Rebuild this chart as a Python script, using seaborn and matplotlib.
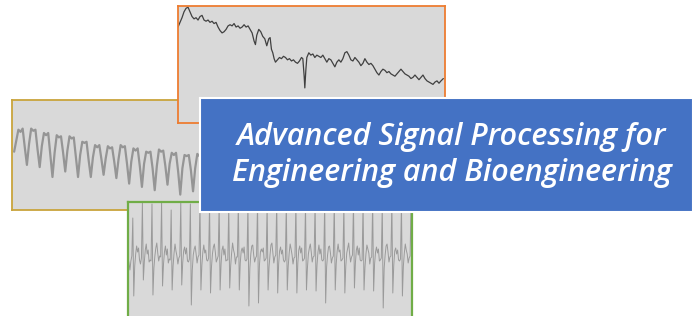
import numpy as np
import pandas as pd
import matplotlib
matplotlib.use("Agg")
import matplotlib.pyplot as plt
import seaborn as sns

sns.set_theme(style="white")

# ---------------- data ----------------
# top (orange) panel: slowly drifting noisy signal
top_t = [10, 16, 22, 28, 34, 40, 46, 52, 58, 64, 70, 76, 82, 88, 94, 100, 106, 112, 118, 124,
         130, 136, 142, 148, 154, 160, 166, 172, 178, 184, 190, 196, 202, 208, 214, 220, 226, 232,
         238, 242, 246, 252, 258, 264, 270, 276, 282, 286, 290, 294, 298, 302, 308, 314, 320, 326,
         332, 338, 344, 350, 356, 362, 368, 374, 380, 384, 388, 390, 393, 396, 402, 408, 414, 420,
         426, 432, 438, 444, 450, 456, 462, 468, 474, 480, 486, 492, 498, 504, 510, 516, 522, 528,
         534, 540, 546, 552, 558, 564, 570, 576, 582, 588, 594, 600, 606, 612, 618, 624, 630, 636,
         642, 648, 654, 660, 666, 672, 678, 684, 690, 696, 702, 708, 714, 720, 726, 732, 738, 744,
         750, 756, 762, 768, 774, 780, 786, 792, 798, 805]
top_v = [82, 86, 90, 95, 98, 99, 95, 91, 89, 90, 88, 91, 92, 88, 87, 88, 86, 87, 85, 86,
         82, 79, 77, 78, 80, 83, 84, 83, 85, 82, 83, 81, 82, 84, 82, 83, 80, 77,
         70, 67, 75, 80, 78, 74, 72, 66, 72, 73, 63, 60, 55, 52, 54, 56, 55, 57,
         56, 54, 55, 53, 54, 52, 51, 53, 56, 55, 40, 30, 45, 56, 60, 58, 59, 56,
         58, 57, 56, 58, 55, 52, 55, 54, 51, 48, 52, 54, 52, 55, 60, 61, 58, 54,
         53, 56, 54, 52, 49, 51, 55, 52, 50, 51, 49, 46, 43, 41, 44, 46, 45, 43,
         44, 42, 41, 40, 42, 44, 46, 44, 42, 41, 40, 38, 39, 41, 39, 37, 39, 41,
         38, 36, 35, 34, 33, 35, 36, 34, 36, 38]

# left (gold) panel: breathing-like oscillation
resp_v = [53, 63,
          73, 71, 74, 57, 41, 60,
          74, 72, 73, 55, 39, 58,
          70, 68, 70, 50, 30, 52,
          68, 66, 67, 52, 35, 54,
          67, 65, 66, 48, 30, 50,
          62, 61, 62, 45, 30, 48,
          59, 57, 59, 46, 32, 47,
          58, 56, 57, 44, 29, 46,
          59, 57, 58, 42, 24, 44,
          56, 54, 56, 40, 21, 42,
          53, 52, 53, 38, 18, 40,
          55, 53, 54, 40, 23, 42,
          52, 50, 52, 35, 14, 38,
          50, 49, 50, 36, 17, 38,
          51, 49, 50, 36, 18, 40]

# bottom (green) panel: ECG-like trace
ecg_v = [0, -5, -12, -3,
         2, 40, -38, -8, 4, 12, 6, 10, -2, -6,
         0, 55, -22, -4, 8, 14, 4, 8, -4, -2,
         -3, 54, -37, -10, 2, 10, 15, 5, -3, 2,
         1, 55, -28, -6, 6, 12, 3, 9, -5, -1,
         -2, 48, -32, -8, 5, 14, 7, 2, -6, 0,
         2, 55, -27, -5, 7, 11, 4, 10, -3, -4,
         -1, 54, -47, -12, 3, 9, 12, 4, -5, 1,
         3, 55, -32, -7, 6, 13, 5, 8, -2, -3,
         0, 53, -35, -9, 4, 11, 14, 6, -4, -1,
         2, 55, -32, -6, 8, 12, 3, 9, -3, -2,
         -2, 52, -30, -8, 5, 15, 8, 4, -6, 1,
         1, 55, -32, -5, 7, 10, 5, 11, -2, -3,
         -1, 54, -48, -10, 4, 12, 13, 3, -4, 0,
         2, 55, -45, -7, 6, 9, 6, 10, -3, -2,
         0, 53, -32, -9, 3, 13, 15, 5, -5, 1,
         3, 55, -35, -6, 7, 11, 4, 8, -2, -4,
         -2, 54, -32, -8, 5, 14, 9, 3, -6, 0,
         1, 55, -35, -5, 8, 12, 5, 10, -3, -2,
         0, 52, -32, -10, 4, 10, 14, 6, -4, 1,
         2, 55, -33, -7, 6, 13, 4, 9, -2, -3,
         -1, 54, -45, -9, 3, 11, 12, 5, -5, 0,
         2, 55, -32, -6, 7, 14, 6, 8, -3, -2,
         0, 53, -35, -8, 5, 10, 15, 4, -4, 1,
         3, 55, -30, -5, 8, 12, 3, 10, -2, -3,
         -2, 54, -32, -9, 4, 13, 9, 5, -6, 0,
         1, 55, -33, -6, 6, 11, 5, 9, -3, -2,
         0, 52, -50, -10, 3, 12, 14, 6, -4, 1,
         2, 55, -35, -7, 7, 10, 4, 8, -2, -3,
         -1, 54, -38, -8, 5, 14, 8, 4, -5, 0,
         2, 55, -45, -6, 6, 12, 5, 10, -3, -2]

title_lines = ["Advanced Signal Processing for", "Engineering and Bioengineering"]

# ---------------- layout ----------------
W, H = 694, 316
fig = plt.figure(figsize=(W / 100, H / 100), dpi=100)
fig.patch.set_facecolor("white")


def panel(l, t, r, b, face, edge, lw, z):
    ax = fig.add_axes([l / W, 1 - b / H, (r - l) / W, (b - t) / H], zorder=z)
    ax.set_facecolor(face)
    for s in ax.spines.values():
        s.set_visible(True)
        s.set_color(edge)
        s.set_linewidth(lw)
    ax.set_xticks([])
    ax.set_yticks([])
    return ax


# gold panel (back)
ax_g = panel(12, 100, 225, 210, "#D9D9D9", "#C9A43C", 1.3, 1)
sns.lineplot(x=np.arange(len(resp_v)), y=resp_v, ax=ax_g, color="#959595",
             linewidth=1.6, sort=False, estimator=None)
ax_g.set_xlim(-1, 99)
ax_g.set_ylim(0, 100)

# orange panel
ax_o = panel(178, 6, 445, 123, "#D9D9D9", "#ED7D31", 1.3, 2)
sns.lineplot(x=top_t, y=top_v, ax=ax_o, color="#404040", linewidth=0.9,
             sort=False, estimator=None)
ax_o.set_xlim(10, 810)
ax_o.set_ylim(0, 100)

# green panel
ax_e = panel(128, 202, 412, 335, "#D9D9D9", "#70AD47", 1.6, 3)
sns.lineplot(x=np.arange(len(ecg_v)), y=ecg_v, ax=ax_e, color="#9A9A9A",
             linewidth=0.7, sort=False, estimator=None)
ax_e.set_xlim(0, 296)
ax_e.set_ylim(-77, 56)

for a in (ax_g, ax_o, ax_e):
    a.set_xlabel("")
    a.set_ylabel("")

# blue title box
ax_b = panel(200, 98, 693, 212, "#4472C4", "white", 1.5, 10)
ax_b.set_xlim(0, 1)
ax_b.set_ylim(0, 1)

for txt, yb in zip(title_lines, (145, 181)):
    fig.text(452 / W, 1 - yb / H, txt, ha="center", va="baseline",
             color="white", fontsize=22, fontstyle="italic", fontweight="semibold",
             family=["Open Sans", "DejaVu Sans"], zorder=20)

fig.savefig("out.png", dpi=100)
